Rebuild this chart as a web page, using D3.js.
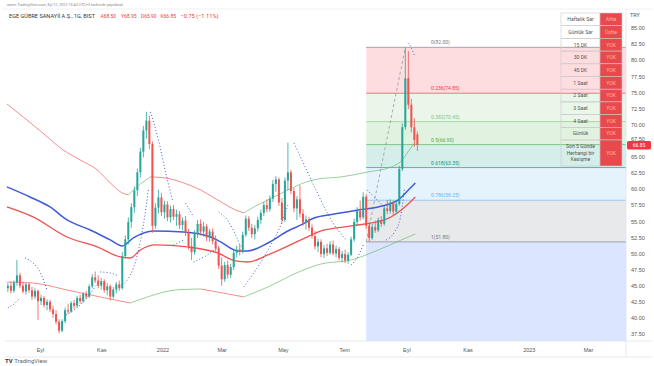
<!DOCTYPE html>
<html>
<head>
<meta charset="utf-8">
<script src="https://cdn.jsdelivr.net/npm/d3@7"></script>
<style>
  body { margin: 0; background: #fff; }
  svg { display: block; font-family: Roboto, "DejaVu Sans", sans-serif; }
</style>
</head>
<body>
<div id="chart"></div>
<script>
// ---- data ----
const firstBar = "2021-07-31";   // one candle every 3 days
const barStep = 3;

// [open, high, low, close]
const ohlc = [
  [44.6,45.4,44.0,45.0],[45.0,45.6,43.8,44.2],[44.2,45.8,43.9,45.5],[45.5,49.0,45.0,46.6],[46.6,47.0,44.6,45.0],
  [45.0,45.6,43.8,44.1],[44.1,45.4,43.6,45.2],[45.2,45.5,43.9,44.3],[44.3,44.8,42.8,43.3],[43.3,44.6,42.9,44.2],
  [44.2,44.4,39.7,42.6],[42.6,43.6,42.0,43.1],[43.1,43.4,41.6,42.0],[42.0,42.9,41.2,42.5],[42.5,42.8,40.9,41.3],
  [41.3,41.9,40.0,40.6],[40.6,41.2,39.0,39.4],[39.4,39.8,37.6,38.0],[38.0,39.8,37.8,39.5],[39.5,41.6,39.2,41.2],
  [41.2,42.2,40.6,41.0],[41.0,42.6,40.8,42.3],[42.3,42.8,41.4,41.9],[41.9,43.4,41.6,43.1],[43.1,43.6,42.2,42.6],
  [42.6,44.0,42.3,43.7],[43.7,44.2,42.9,43.3],[43.3,45.2,43.1,44.9],[44.9,46.8,44.6,46.3],[46.3,47.2,45.4,45.8],
  [45.8,46.6,44.6,45.0],[45.0,46.2,44.4,45.7],[45.7,46.0,43.9,44.3],[44.3,45.4,43.5,44.9],[44.9,45.2,42.7,43.3],
  [43.3,44.8,43.0,44.4],[44.4,45.6,43.8,45.2],[45.2,45.8,44.2,44.6],[44.6,50.2,44.4,49.6],[49.6,52.8,49.2,52.2],
  [52.2,55.6,51.4,54.9],[54.9,57.8,54.0,57.2],[57.2,60.4,56.3,59.8],[59.8,63.2,58.9,62.6],[62.6,66.4,61.8,65.8],
  [65.8,69.8,64.9,69.1],[69.1,72.0,67.8,70.6],[70.6,71.4,66.2,67.0],[67.0,67.4,53.2,54.3],[54.3,57.8,53.8,57.1],
  [57.1,59.9,56.2,58.7],[58.7,59.4,55.8,56.4],[56.4,58.2,55.4,57.6],[57.6,58.1,55.0,55.6],[55.6,57.4,54.8,56.9],
  [56.9,57.5,55.2,55.7],[55.7,56.8,54.3,56.1],[56.1,56.6,53.8,54.4],[54.4,55.6,53.6,55.1],[55.1,55.8,52.7,53.2],
  [53.2,53.8,50.6,51.1],[51.1,52.4,49.0,50.2],[50.2,53.6,49.8,53.0],[53.0,55.2,52.4,54.6],[54.6,55.3,52.8,53.4],
  [53.4,54.9,52.6,54.2],[54.2,54.6,51.9,52.5],[52.5,53.8,51.8,53.4],[53.4,53.9,51.4,51.9],[51.9,52.8,50.3,50.8],
  [50.8,51.2,47.6,48.1],[48.1,49.4,45.0,46.0],[46.0,48.7,45.6,48.2],[48.2,48.9,46.1,46.7],[46.7,48.4,46.2,47.9],
  [47.9,50.6,47.4,50.1],[50.1,51.2,49.4,50.6],[50.6,51.4,49.7,50.3],[50.3,53.4,50.0,52.9],[52.9,55.9,52.6,55.4],
  [55.4,55.8,53.5,54.0],[54.0,54.6,52.4,53.0],[53.0,54.4,52.2,53.9],[53.9,55.7,53.4,55.2],[55.2,56.8,54.6,56.3],
  [56.3,58.0,55.8,57.5],[57.5,58.4,56.4,56.9],[56.9,59.0,56.5,58.5],[58.5,61.4,58.0,60.8],[60.8,62.0,59.6,61.5],
  [61.5,61.8,57.4,57.9],[57.9,58.6,54.6,55.2],[55.2,61.8,54.9,61.3],[61.3,67.2,59.8,62.6],[62.6,63.0,59.2,59.7],
  [59.7,60.2,56.4,57.0],[57.0,58.9,55.2,58.4],[58.4,60.6,55.6,56.2],[56.2,56.9,54.3,54.8],[54.8,55.9,53.7,55.3],
  [55.3,55.7,53.5,54.0],[54.0,54.5,52.3,52.7],[52.7,53.5,50.6,51.1],[51.1,52.3,50.2,51.8],[51.8,52.2,49.4,49.9],
  [49.9,51.3,49.3,50.8],[50.8,51.5,49.6,50.1],[50.1,51.9,49.8,51.4],[51.4,52.0,49.7,50.0],[50.0,51.2,49.4,50.7],
  [50.7,51.0,48.9,49.3],[49.3,50.4,48.6,49.9],[49.9,50.6,48.5,48.9],[48.9,50.2,48.4,49.8],[49.8,52.6,49.6,52.2],
  [52.2,55.4,51.8,54.9],[54.9,57.2,54.3,56.6],[56.6,58.2,55.1,55.6],[55.6,59.5,55.3,58.8],[58.8,59.2,53.8,54.3],
  [54.3,54.8,51.8,52.4],[52.4,54.6,52.1,54.1],[54.1,55.1,53.2,53.6],[53.6,55.6,53.3,55.2],[55.2,55.8,54.1,54.6],
  [54.6,57.4,54.3,57.0],[57.0,58.3,56.1,56.6],[56.6,58.4,56.2,57.9],[57.9,58.2,56.0,56.5],[56.5,58.1,56.1,57.7],
  [57.7,63.6,57.4,63.1],[63.1,70.2,62.8,69.6],[69.6,82.0,69.2,77.2],[77.2,81.4,72.4,73.1],[73.1,74.0,68.8,69.6],
  [69.6,71.0,66.6,67.6],[68.50,68.95,65.90,66.85]
];

// moving average (blue) and the red line under it
const blueLine = [
  ["2021-07-30",60.33],["2021-08-22",58.77],["2021-09-11",57.22],["2021-09-28",55.20],["2021-10-21",53.65],
  ["2021-11-10",52.10],["2021-11-22",51.16],["2021-12-03",52.41],["2021-12-23",53.49],["2022-01-22",53.34],
  ["2022-02-18",52.56],["2022-02-28",51.79],["2022-03-17",50.39],["2022-03-27",50.39],["2022-04-16",51.63],
  ["2022-05-06",53.49],["2022-05-19",54.43],["2022-06-01",55.51],["2022-06-21",56.13],["2022-07-15",56.75],
  ["2022-08-04",57.22],["2022-08-24",58.31],["2022-09-03",59.86],["2022-09-10",60.95]
];
const redLine = [
  ["2021-07-30",57.22],["2021-08-25",55.67],["2021-09-28",52.56],["2021-10-28",51.01],["2021-11-20",49.46],
  ["2021-11-30",49.30],["2021-12-10",50.54],["2021-12-25",51.32],["2022-01-26",51.01],["2022-02-25",50.08],
  ["2022-03-15",48.84],["2022-03-27",48.68],["2022-04-16",49.77],["2022-05-19",52.10],["2022-06-08",53.49],
  ["2022-07-08",54.27],["2022-08-10",55.20],["2022-08-27",56.75],["2022-09-10",58.77]
];
// outer bands (green while rising, red while falling)
const upperBand = [
  ["2021-07-30",73.21],["2021-08-19",70.73],["2021-09-06",68.40],["2021-09-24",66.07],["2021-10-11",64.52],
  ["2021-10-28",62.97],["2021-11-10",60.95],["2021-11-22",59.39],["2021-11-28",59.08],["2021-12-10",60.79],
  ["2021-12-20",61.88],["2022-01-04",61.72],["2022-01-22",60.95],["2022-02-08",59.86],["2022-02-25",58.31],
  ["2022-03-15",56.75],["2022-03-23",56.29],["2022-04-04",57.38],["2022-04-16",58.31],["2022-05-04",59.70],
  ["2022-05-19",60.79],["2022-06-05",61.57],["2022-06-28",61.88],["2022-07-25",62.66],["2022-08-17",63.43],
  ["2022-08-27",64.36],["2022-09-04",66.07],["2022-09-10",67.31]
];
const lowerBand = [
  ["2021-07-30",45.57],["2021-08-25",45.42],["2021-09-28",44.33],["2021-10-31",43.25],["2021-11-30",42.31],
  ["2021-12-20",43.40],["2022-01-14",44.33],["2022-02-08",44.49],["2022-03-02",43.87],["2022-03-23",43.25],
  ["2022-04-16",44.80],["2022-05-19",47.28],["2022-06-08",48.37],["2022-07-08",48.99],["2022-08-04",50.54],
  ["2022-08-27",52.10],["2022-09-10",53.03]
];
// parabolic SAR runs
const sarRuns = [
  [["2021-07-31",41.54],["2021-08-06",42.16],["2021-08-12",43.09]],
  [["2021-08-17",49.30],["2021-08-24",48.68],["2021-09-01",47.13],["2021-09-08",44.33]],
  [["2021-09-27",40.45],["2021-10-11",42.00],["2021-10-28",45.26]],
  [["2021-10-31",47.13],["2021-11-10",46.97],["2021-11-18",46.51]],
  [["2021-11-22",45.11],["2021-11-30",46.66],["2021-12-07",49.77],["2021-12-13",54.43],["2021-12-18",59.86]],
  [["2021-12-20",71.97],["2021-12-28",67.62],["2022-01-04",62.66],["2022-01-11",58.31]],
  [["2022-01-12",51.32],["2022-01-22",52.10]],
  [["2022-01-24",57.84],["2022-02-01",55.67]],
  [["2022-02-01",48.68],["2022-02-13",49.61],["2022-02-26",51.01]],
  [["2022-02-26",56.44],["2022-03-08",54.89],["2022-03-20",51.01]],
  [["2022-03-23",44.80],["2022-04-04",47.44],["2022-04-19",51.32],["2022-04-29",54.43],["2022-05-06",57.53]],
  [["2022-05-12",67.16],["2022-05-19",64.83],["2022-06-03",59.86],["2022-06-18",55.20],["2022-07-03",52.10]],
  [["2022-07-08",48.22],["2022-07-14",49.30],["2022-07-20",51.32]],
  [["2022-07-24",59.86],["2022-08-01",58.62],["2022-08-09",57.38]],
  [["2022-08-12",52.10],["2022-08-20",53.30],["2022-08-26",55.50],["2022-08-30",60.00]],
  [["2022-09-03",82.70],["2022-09-06",81.90],["2022-09-09",80.80]]
];

// fibonacci retracement
const fibHigh = 82.00, fibLow = 51.80;
const fibStart = "2022-07-23", fibTop = "2022-08-31";
const fibLevels = [0, 0.236, 0.382, 0.5, 0.618, 0.786, 1, 1.618];
const fibColors = ["#787b86", "#f23645", "#81c784", "#4caf50", "#089981", "#64b5f6", "#787b86", "#2962ff"];

// axes
const yTicks = [37.5, 40, 42.5, 45, 47.5, 50, 52.5, 55, 57.5, 60, 62.5, 65, 67.5, 70, 72.5, 75, 77.5, 80, 82.5, 85];
const xTickDates = ["2021-09-01","2021-11-01","2022-01-01","2022-03-01","2022-05-01","2022-07-01","2022-09-01","2022-11-01","2023-01-01","2023-03-01"];
const xTickLabels = ["Eyl","Kas","2022","Mar","May","Tem","Eyl","Kas","2023","Mar"];

// status table
const tableLabels = ["Haftalık Sar","Günlük Sar","15 DK","30 DK","45 DK","1 Saat","2 Saat","3 Saat","4 Saat","Günlük",["Son 5 Günde","Herhangi bir","Kesişme"]];
const tableValues = ["Altta","Üstte","YOK","YOK","YOK","YOK","YOK","YOK","YOK","YOK","YOK"];

const lastClose = 66.85;
const change = "−0.75 (−1.11%)";

// ---- drawing ----
const width = 654, height = 366;
const pane = { left: 5, right: 626, top: 9, bottom: 341 };
const parse = d => new Date(d + "T00:00:00Z");

const svg = d3.select("#chart").append("svg")
  .attr("width", width)
  .attr("height", height);

const x = d3.scaleUtc()
  .domain([parse("2021-09-01"), parse("2023-03-01")])
  .range([40, 588]);

const y = d3.scaleLinear()
  .domain([37.5, 85])
  .range([334, 28]);

svg.append("clipPath").attr("id", "pane")
  .append("rect")
  .attr("x", pane.left).attr("y", pane.top)
  .attr("width", pane.right - pane.left).attr("height", pane.bottom - pane.top);

const plot = svg.append("g").attr("clip-path", "url(#pane)");

// fib zones
const fibPrice = l => fibHigh - l * (fibHigh - fibLow);
const fx0 = x(parse(fibStart)), fx1 = pane.right;
fibLevels.forEach((l, k) => {
  if (k === 0) return;
  const yt = y(fibPrice(fibLevels[k - 1])), yb = y(fibPrice(l));
  plot.append("rect")
    .attr("x", fx0).attr("y", yt)
    .attr("width", fx1 - fx0).attr("height", yb - yt)
    .attr("fill", fibColors[k]).attr("fill-opacity", 0.17);
});
fibLevels.forEach((l, k) => {
  plot.append("line")
    .attr("x1", fx0).attr("x2", fx1)
    .attr("y1", y(fibPrice(l))).attr("y2", y(fibPrice(l)))
    .attr("stroke", fibColors[k]).attr("stroke-width", 0.8).attr("stroke-opacity", 0.8);
  const p = Math.round(fibPrice(l) / 0.05) * 0.05;
  plot.append("text")
    .attr("x", 431).attr("y", y(fibPrice(l)) - 3)
    .attr("font-size", 5).attr("fill", fibColors[k])
    .text(`${l}(${p.toFixed(2)})`);
});
plot.append("line")
  .attr("x1", x(parse(fibStart))).attr("y1", y(fibLow))
  .attr("x2", x(parse(fibTop))).attr("y2", y(fibHigh))
  .attr("stroke", "#9598a1").attr("stroke-width", 0.8)
  .attr("stroke-dasharray", "3,2.5");

// lines
const line = d3.line()
  .x(d => x(parse(d[0])))
  .y(d => y(d[1]))
  .curve(d3.curveMonotoneX);

function slopeRuns(pts) {
  const runs = [];
  let cur = [pts[0]], up = null;
  for (let k = 1; k < pts.length; k++) {
    const u = pts[k][1] >= pts[k - 1][1];
    if (up === null || u === up) cur.push(pts[k]);
    else { runs.push({ up, pts: cur }); cur = [pts[k - 1], pts[k]]; }
    up = u;
  }
  runs.push({ up, pts: cur });
  return runs;
}

[upperBand, lowerBand].forEach(band => {
  slopeRuns(band).forEach(r => {
    plot.append("path")
      .attr("d", line(r.pts))
      .attr("fill", "none")
      .attr("stroke", r.up ? "#66bb6a" : "#ef5350")
      .attr("stroke-opacity", 0.75)
      .attr("stroke-width", 0.9);
  });
});

plot.append("path")
  .attr("d", line(redLine))
  .attr("fill", "none").attr("stroke", "#ef5350").attr("stroke-width", 1.3);

plot.append("path")
  .attr("d", line(blueLine))
  .attr("fill", "none").attr("stroke", "#3f5bdc").attr("stroke-width", 1.5);

sarRuns.forEach(run => {
  plot.append("path")
    .attr("d", line(run))
    .attr("fill", "none")
    .attr("stroke", "#3d5ee0")
    .attr("stroke-width", 1)
    .attr("stroke-dasharray", "1,2.2");
});

// candles
const day = 864e5;
const t0 = parse(firstBar).getTime();
const candles = plot.selectAll("g.candle")
  .data(ohlc)
  .enter().append("g")
  .attr("class", "candle")
  .attr("transform", (d, i) => `translate(${x(new Date(t0 + i * barStep * day))},0)`);

candles.append("line")
  .attr("y1", d => y(d[1])).attr("y2", d => y(d[2]))
  .attr("stroke", d => d[3] >= d[0] ? "#26a69a" : "#ef5350")
  .attr("stroke-width", 0.8);

candles.append("rect")
  .attr("x", -1).attr("width", 2)
  .attr("y", d => y(Math.max(d[0], d[3])))
  .attr("height", d => Math.max(0.8, Math.abs(y(d[0]) - y(d[3]))))
  .attr("fill", d => d[3] >= d[0] ? "#26a69a" : "#ef5350");

// status table
const tx0 = 561, tx1 = 600, tx2 = 622, ty0 = 13, rh = 12.7, lastH = 26;
tableLabels.forEach((lab, i) => {
  const ry = ty0 + i * rh;
  const h = Array.isArray(lab) ? lastH : rh;
  svg.append("rect")
    .attr("x", tx0).attr("y", ry).attr("width", tx1 - tx0).attr("height", h)
    .attr("fill", i < 2 ? "#ffffff" : "none")
    .attr("stroke", "#c9c9c9").attr("stroke-width", 0.6);
  svg.append("rect")
    .attr("x", tx1).attr("y", ry).attr("width", tx2 - tx1).attr("height", h)
    .attr("fill", "#e8494d")
    .attr("stroke", "#c9c9c9").attr("stroke-width", 0.6);
  const lines = Array.isArray(lab) ? lab : [lab];
  lines.forEach((s, j) => {
    svg.append("text")
      .attr("x", (tx0 + tx1) / 2)
      .attr("y", ry + h / 2 + (j - (lines.length - 1) / 2) * 6.5)
      .attr("dy", "0.35em")
      .attr("text-anchor", "middle")
      .attr("font-size", 5.1).attr("fill", "#555")
      .text(s);
  });
  svg.append("text")
    .attr("x", (tx1 + tx2) / 2).attr("y", ry + h / 2)
    .attr("dy", "0.35em").attr("text-anchor", "middle")
    .attr("font-size", 5.1).attr("fill", "#ffb3a6")
    .text(tableValues[i]);
});

// frame lines
svg.append("line").attr("x1", pane.right).attr("x2", pane.right).attr("y1", pane.top).attr("y2", 357)
  .attr("stroke", "#e0e3eb").attr("stroke-width", 0.8);
svg.append("line").attr("x1", pane.left).attr("x2", width - 2).attr("y1", pane.bottom).attr("y2", pane.bottom)
  .attr("stroke", "#e0e3eb").attr("stroke-width", 0.8);
svg.append("line").attr("x1", pane.left).attr("x2", width - 2).attr("y1", 357).attr("y2", 357)
  .attr("stroke", "#e0e3eb").attr("stroke-width", 0.8);
svg.append("line").attr("x1", 2).attr("x2", width - 2).attr("y1", pane.top).attr("y2", pane.top)
  .attr("stroke", "#eceef2").attr("stroke-width", 0.8);

// axes
svg.append("g")
  .attr("transform", `translate(${pane.right},0)`)
  .call(d3.axisRight(y).tickValues(yTicks).tickFormat(d3.format(".2f")).tickSize(0).tickPadding(5))
  .call(g => g.select(".domain").remove())
  .selectAll("text").attr("font-size", 5.5).attr("fill", "#555")
  .attr("dy", d => d === 67.5 ? "-0.1em" : "0.32em");

svg.append("text").attr("x", 630).attr("y", 17).attr("font-size", 5.5).attr("fill", "#555").text("TRY");

svg.append("g")
  .attr("transform", `translate(0,${pane.bottom})`)
  .call(d3.axisBottom(x).tickValues(xTickDates.map(parse)).tickFormat((d, i) => xTickLabels[i]).tickSize(0).tickPadding(7))
  .call(g => g.select(".domain").remove())
  .selectAll("text").attr("font-size", 5.5).attr("fill", "#555");

// last price tag
svg.append("rect")
  .attr("x", 627).attr("y", y(lastClose) - 4).attr("width", 24).attr("height", 8.5).attr("rx", 1.5)
  .attr("fill", "#f23645");
svg.append("text")
  .attr("x", 639).attr("y", y(lastClose) + 0.3).attr("dy", "0.35em").attr("text-anchor", "middle")
  .attr("font-size", 5).attr("fill", "#fff").text(lastClose.toFixed(2));

// header
svg.append("text").attr("x", 7).attr("y", 6).attr("font-size", 4.4).attr("fill", "#8a8a8a")
  .attr("textLength", 116).attr("lengthAdjust", "spacingAndGlyphs")
  .text("asmn TradingView.com, Eyl 12, 2022 15:43 UTC+3 tarihinde yayınlandı");

svg.append("text").attr("x", 9).attr("y", 18).attr("font-size", 6).attr("fill", "#333")
  .attr("textLength", 86).attr("lengthAdjust", "spacingAndGlyphs")
  .text("EGE GÜBRE SANAYİİ A.Ş., 1G, BIST");

const last = ohlc[ohlc.length - 1];
const legend = [["A", last[0], 100.5], ["Y", last[1], 121], ["D", last[2], 141], ["K", last[3], 160.5]];
legend.forEach(([k, v, lx]) => {
  svg.append("text").attr("x", lx).attr("y", 18).attr("font-size", 5.8).attr("fill", "#f23645")
    .attr("textLength", 15.5).attr("lengthAdjust", "spacingAndGlyphs")
    .text(k + v.toFixed(2));
});
svg.append("text").attr("x", 180.5).attr("y", 18).attr("font-size", 5.8).attr("fill", "#f23645")
  .attr("textLength", 38).attr("lengthAdjust", "spacingAndGlyphs")
  .text(change);

// logo
const logo = svg.append("text").attr("x", 5).attr("y", 363).attr("font-size", 6).attr("fill", "#333");
logo.append("tspan").attr("font-weight", "bold").text("TV ");
logo.append("tspan").attr("fill", "#666").text("TradingView");
</script>
</body>
</html>
